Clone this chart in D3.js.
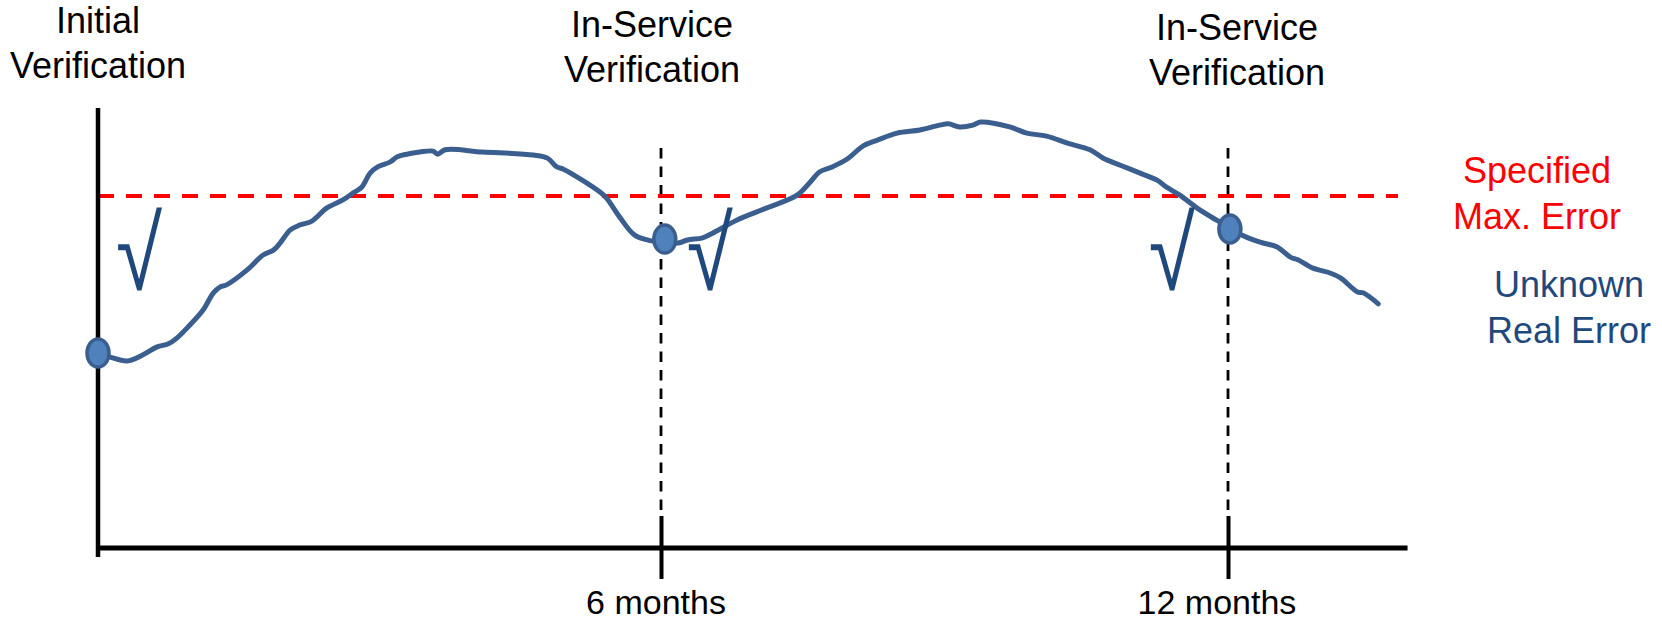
<!DOCTYPE html>
<html>
<head>
<meta charset="utf-8">
<script src="https://cdn.jsdelivr.net/npm/d3@7/dist/d3.min.js"></script>
<style>
  html, body { margin: 0; padding: 0; background: #ffffff; }
  svg { display: block; }
  text { font-family: "Liberation Sans", Arial, sans-serif; }
</style>
</head>
<body>
<svg id="chart" width="1662" height="619"></svg>
<script>
// Real (unknown) error of the instrument over time, in months
const curveMonths = [
  0, 0.13, 0.31, 0.48, 0.63, 0.75, 0.84, 0.98, 1.12, 1.23, 1.30, 1.37, 1.59, 1.76, 1.87, 1.94,
  2.05, 2.15, 2.28, 2.44, 2.61, 2.72, 2.81, 2.90, 2.98, 3.11, 3.19, 3.29, 3.43, 3.57, 3.62, 3.70,
  4.10, 4.64, 4.79, 4.89, 4.96, 5.35, 5.42, 5.56, 5.72, 5.90, 6.18, 6.28, 6.44, 6.55, 6.80, 7.12,
  7.44, 7.58, 7.68, 7.81, 7.97, 8.14, 8.29, 8.50, 8.74, 8.95, 9.04, 9.16, 9.30, 9.38, 9.69, 9.87,
  10.08, 10.30, 10.54, 10.68, 10.86, 11.07, 11.25, 11.35, 11.49, 11.67, 11.88, 12.15, 12.34, 12.52,
  12.66, 12.74, 12.90, 13.08, 13.19, 13.37, 13.43, 13.59
];
const curveError = [
  44.3, 43.4, 42.5, 43.9, 45.7, 46.4, 47.7, 50.7, 54.1, 58.0, 59.3, 59.8, 63.2, 66.6, 67.7, 69.3,
  72.3, 73.4, 74.3, 77.3, 79.1, 80.7, 82.0, 85.2, 86.6, 87.7, 88.9, 89.5, 90.0, 90.2, 89.5, 90.5,
  90.0, 89.3, 88.6, 86.6, 86.1, 80.9, 79.5, 75.2, 71.1, 69.8, 69.3, 70.0, 70.5, 71.6, 74.5, 77.3,
  80.2, 83.2, 85.5, 86.6, 88.4, 91.4, 92.7, 94.3, 95.0, 96.1, 96.4, 95.7, 96.1, 96.8, 95.7, 94.3,
  93.6, 92.0, 90.5, 88.6, 87.0, 85.2, 83.6, 82.0, 80.2, 77.3, 74.5, 71.1, 69.5, 68.4,
  66.1, 65.5, 63.6, 62.5, 61.4, 58.2, 58.0, 55.5
];

// Verification points (month, measured error)
const markerMonths = [0, 6.04, 12.02];
const markerError = [44.3, 70.2, 72.5];

// Specified maximum permissible error
const specMaxError = 80;

// Verification schedule
const verificationMonths = [0, 6, 12];
const verificationLabels = [
  ["Initial", "Verification"],
  ["In-Service", "Verification"],
  ["In-Service", "Verification"]
];
const tickMonths = [6, 12];
const tickLabels = ["6 months", "12 months"];
const checkSymbol = "\u221A";
const specLabel = ["Specified", "Max. Error"];
const realLabel = ["Unknown", "Real Error"];

const svg = d3.select("#chart");

const x = d3.scaleLinear().domain([0, 6, 12]).range([98, 661, 1228]);
const y = d3.scaleLinear().domain([0, 100]).range([548, 108]);
const xEnd = 13.9;

const lineColor = "#3A5F8F";
const darkBlue = "#1F497D";

// Vertical dashed guides at the in-service verifications
svg.append("g")
  .selectAll("line")
  .data(tickMonths)
  .join("line")
  .attr("x1", d => x(d)).attr("x2", d => x(d))
  .attr("y1", 148).attr("y2", 515)
  .attr("stroke", "#000").attr("stroke-width", 2.8)
  .attr("stroke-dasharray", "10.5,8");

// Specified max. error line
svg.append("line")
  .attr("x1", x(0)).attr("x2", 1398)
  .attr("y1", y(specMaxError)).attr("y2", y(specMaxError))
  .attr("stroke", "#FF0000").attr("stroke-width", 4)
  .attr("stroke-dasharray", "16,12");

// Axes
const xAxis = d3.axisBottom(x)
  .tickValues(tickMonths)
  .tickFormat(() => "")
  .tickSize(32)
  .tickSizeOuter(0);
const gx = svg.append("g").attr("transform", `translate(0,${y(0)})`).call(xAxis);
gx.select(".domain").remove();
gx.selectAll(".tick line").attr("y1", -32).attr("y2", 31).attr("stroke", "#000").attr("stroke-width", 4);
gx.append("line")
  .attr("x1", x(0) - 2).attr("x2", x(xEnd))
  .attr("y1", 0).attr("y2", 0)
  .attr("stroke", "#000").attr("stroke-width", 5);

svg.append("line")
  .attr("x1", x(0)).attr("x2", x(0))
  .attr("y1", y(100)).attr("y2", y(0) + 9)
  .attr("stroke", "#000").attr("stroke-width", 4.5);

// Tick labels
const tickLabelShift = [-5, -11];
svg.append("g")
  .selectAll("text")
  .data(tickMonths)
  .join("text")
  .attr("x", (d, i) => x(d) + tickLabelShift[i])
  .attr("y", 614)
  .attr("text-anchor", "middle")
  .attr("font-size", 34)
  .attr("fill", "#000")
  .text((d, i) => tickLabels[i]);

// Real error curve
const points = curveMonths.map((m, i) => [m, curveError[i]]);
const line = d3.line()
  .x(d => x(d[0]))
  .y(d => y(d[1]))
  .curve(d3.curveCatmullRom.alpha(0.5));
svg.append("path")
  .datum(points)
  .attr("d", line)
  .attr("fill", "none")
  .attr("stroke", lineColor)
  .attr("stroke-width", 5)
  .attr("stroke-linejoin", "round")
  .attr("stroke-linecap", "round");

// Verification markers
svg.append("g")
  .selectAll("ellipse")
  .data(markerMonths)
  .join("ellipse")
  .attr("cx", d => x(d))
  .attr("cy", (d, i) => y(markerError[i]))
  .attr("rx", 11)
  .attr("ry", 14)
  .attr("fill", "#4F81BD")
  .attr("stroke", "#3A5F8F")
  .attr("stroke-width", 3.5);

// Pass marks next to each verification, stretched tall
const checkShift = [41, 45, -58];
const checkBaseline = 290;
svg.append("g")
  .selectAll("text")
  .data(markerMonths)
  .join("text")
  .attr("transform", (d, i) => `translate(${x(d) + checkShift[i]},${checkBaseline}) scale(1,1.24)`)
  .attr("text-anchor", "middle")
  .attr("font-family", "'Liberation Serif', 'Times New Roman', serif")
  .attr("font-size", 84)
  .attr("fill", darkBlue)
  .text(checkSymbol);

// Verification titles
const titleShift = [0, -9, 9];
const titleBase = [33, 37, 40];
const titles = svg.append("g")
  .selectAll("text")
  .data(verificationMonths)
  .join("text")
  .attr("text-anchor", "middle")
  .attr("font-size", 36)
  .attr("fill", "#000");
titles.selectAll("tspan")
  .data((d, i) => verificationLabels[i].map(t => ({ t, i, m: d })))
  .join("tspan")
  .attr("x", d => x(d.m) + titleShift[d.i])
  .attr("y", (d, j) => titleBase[d.i] + j * 44.5)
  .text(d => d.t);

// Right-hand labels
function stackedLabel(lines, cx, base, color) {
  svg.append("text")
    .attr("text-anchor", "middle")
    .attr("font-size", 36)
    .attr("fill", color)
    .selectAll("tspan")
    .data(lines)
    .join("tspan")
    .attr("x", cx)
    .attr("y", (d, i) => base + i * 46)
    .text(d => d);
}
stackedLabel(specLabel, 1537, 183, "#FF0000");
stackedLabel(realLabel, 1569, 297, darkBlue);
</script>
</body>
</html>
